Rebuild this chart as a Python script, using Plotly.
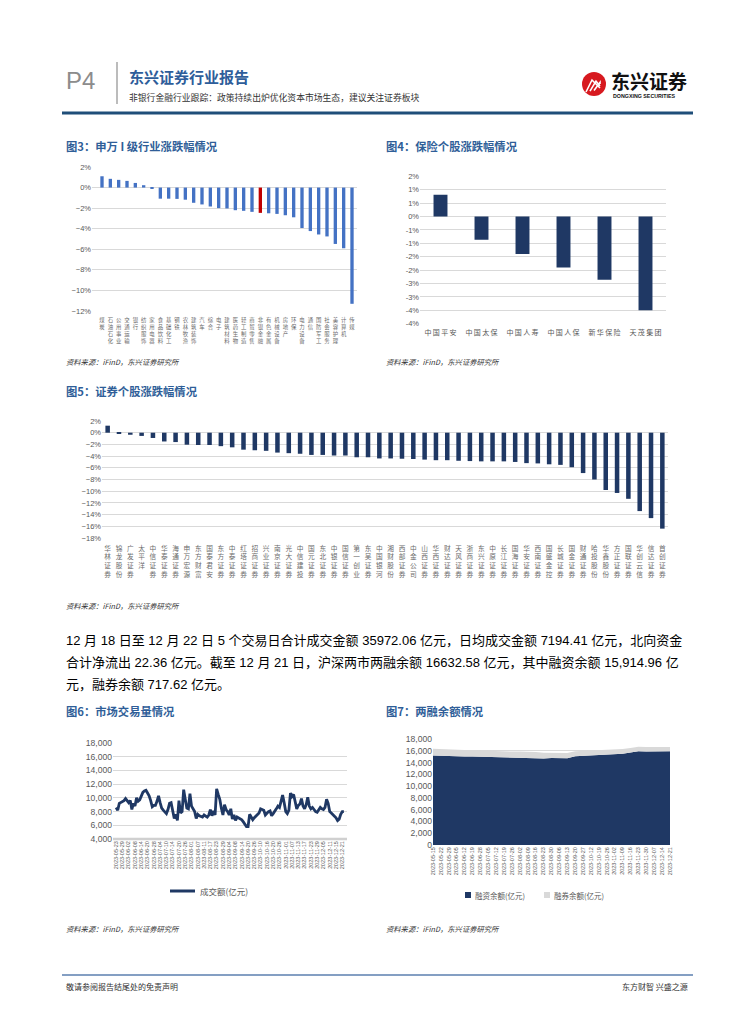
import plotly.graph_objects as go
import pandas as pd

W, H = 755, 1024
OFF = 8  # page body margin in the browser
def X(px): return (px - OFF) / W
def Y(py): return 1 - (py - OFF) / H

# ---------------- data ----------------
# Fig 3: SW level-1 industries weekly change (%)
sw_industries = ["煤炭", "石油石化", "公用事业", "交通运输", "银行", "纺织服饰", "家用电器", "食品饮料",
                 "基础化工", "钢铁", "农林牧渔", "建筑装饰", "汽车", "综合", "电子", "建筑材料",
                 "医药生物", "轻工制造", "商贸零售", "非银金融", "有色金属", "机械设备", "房地产", "环保",
                 "电力设备", "通信", "国防军工", "社会服务", "美容护理", "计算机", "传媒"]
sw_change = [1.1, 0.85, 0.75, 0.65, 0.45, 0.23, -0.1, -1.08, -1.08, -1.1, -1.18, -1.48, -1.64, -1.84,
             -2.0, -2.03, -2.2, -2.26, -2.36, -2.46, -2.5, -2.56, -2.69, -2.89, -3.93, -4.23, -4.56,
             -4.75, -5.48, -5.9, -11.3]
sw_highlight = "非银金融"

# Fig 4: insurance stocks (%)
ins_names = ["中国平安", "中国太保", "中国人寿", "中国人保", "新华保险", "天茂集团"]
ins_change = [0.81, -0.87, -1.40, -1.90, -2.36, -3.50]
ins_tickvals = [1.5, 1.0, 0.5, 0.0, -0.5, -1.0, -1.5, -2.0, -2.5, -3.0, -3.5, -4.0]
ins_ticktext = ["2%", "1%", "1%", "0%", "-1%", "-1%", "-2%", "-2%", "-3%", "-3%", "-4%", "-4%"]

# Fig 5: securities stocks (%)
sec_names = ["华林证券", "锦龙股份", "广发证券", "太平洋", "中信证券", "华泰证券", "海通证券", "申万宏源",
             "东方财富", "国泰君安", "东方证券", "中泰证券", "红塔证券", "招商证券", "兴业证券", "南京证券",
             "光大证券", "中信建投", "国元证券", "东北证券", "中银证券", "国信证券", "第一创业", "东吴证券",
             "中国银河", "湘财股份", "西部证券", "中金公司", "山西证券", "华西证券", "财达证券", "天风证券",
             "浙商证券", "东兴证券", "中原证券", "长江证券", "国海证券", "华安证券", "西南证券", "国盛金控",
             "长城证券", "国金证券", "财通证券", "哈投股份", "华鑫股份", "方正证券", "国联证券", "华创云信",
             "信达证券", "首创证券"]
sec_change = [1.2, -0.2, -0.35, -0.55, -0.9, -1.5, -1.6, -2.05, -2.1, -2.1, -2.3, -2.5, -2.9, -3.0,
              -3.1, -3.4, -3.5, -3.6, -3.8, -3.8, -3.9, -3.9, -4.2, -4.2, -4.4, -4.4, -4.45, -4.5,
              -4.6, -4.7, -4.7, -4.8, -4.85, -4.9, -4.9, -4.9, -5.0, -5.2, -5.25, -5.4, -5.5, -5.9,
              -6.9, -8.0, -9.8, -10.3, -11.3, -13.4, -14.6, -16.4]

# Fig 6: daily turnover (亿元)
turnover = [8600, 8200, 9200, 9300, 9400, 9600, 9900, 9600, 9300, 9600, 8300, 9200, 8800, 10000,
            9500, 9700, 10300, 10800, 11000, 11100, 10700, 10300, 9600, 8700, 8900, 8900, 9500,
            10300, 9300, 8500, 8200, 8000, 7700, 8300, 9200, 9300, 8300, 7000, 7600, 6700, 9600,
            7800, 8000, 11200, 9800, 8500, 8400, 10600, 8800, 8400, 8000, 7000, 7600, 7400, 7300,
            7200, 7500, 7300, 7200, 7500, 8300, 7400, 8100, 7500, 11300, 10500, 9800, 8500, 7500,
            9000, 8300, 8000, 7500, 8400, 6900, 7500, 6700, 7200, 7100, 7000, 6800, 6500, 6100,
            5800, 5800, 7600, 7200, 6800, 7100, 7300, 7500, 7800, 8400, 8300, 8200, 7500, 7800,
            8000, 8100, 7400, 7700, 8000, 8400, 8800, 8600, 9500, 10400, 9300, 8000, 7700, 8200,
            10700, 10200, 10500, 9600, 8400, 8900, 9100, 9900, 8800, 8400, 9000, 10100, 8800, 8400,
            8600, 8300, 8000, 7900, 8300, 8600, 8400, 8300, 8600, 9800, 9200, 8000, 7800, 7600,
            7400, 7100, 6700, 6900, 7600, 8000, 8000]
turnover_end = "2023-12-22"
market_holidays = ["2023-05-01", "2023-05-02", "2023-05-03", "2023-06-22", "2023-06-23",
                   "2023-09-29", "2023-10-02", "2023-10-03", "2023-10-04", "2023-10-05", "2023-10-06"]
turnover_name = "成交额(亿元)"

# Fig 7: margin balances (亿元)
margin_dates = ["2023-05-15", "2023-05-22", "2023-05-29", "2023-06-05", "2023-06-12", "2023-06-19",
                "2023-06-28", "2023-07-05", "2023-07-12", "2023-07-19", "2023-07-26", "2023-08-02",
                "2023-08-09", "2023-08-16", "2023-08-23", "2023-08-30", "2023-09-06", "2023-09-13",
                "2023-09-20", "2023-09-27", "2023-10-12", "2023-10-19", "2023-10-26", "2023-11-02",
                "2023-11-09", "2023-11-16", "2023-11-23", "2023-11-30", "2023-12-07", "2023-12-14",
                "2023-12-21"]
financing_bal = [15200, 15130, 15080, 15050, 15040, 15020, 14980, 14960, 14930, 14880, 14820, 14860,
                 14850, 14780, 14700, 14760, 14720, 14750, 15050, 15120, 15200, 15300, 15290, 15370,
                 15500, 15700, 15900, 15880, 15870, 15920, 15915]
short_bal = [1130, 1120, 1110, 1100, 1090, 1080, 1060, 1060, 1050, 1050, 1040, 1030, 1020, 1000, 960,
             920, 900, 890, 870, 860, 850, 840, 830, 820, 800, 790, 770, 760, 740, 730, 718]
margin_names = ["融资余额(亿元)", "融券余额(亿元)"]

paragraph = [
    "12 月 18 日至 12 月 22 日 5 个交易日合计成交金额 35972.06 亿元，日均成交金额 7194.41 亿元，北向资金",
    "合计净流出 22.36 亿元。截至 12 月 21 日，沪深两市两融余额 16632.58 亿元，其中融资余额 15,914.96 亿",
    "元，融券余额 717.62 亿元。",
]

# ---------------- styles ----------------
CJK = "Noto Sans CJK SC"
NUM = "Liberation Sans, Noto Sans CJK SC"
NAVY = "#1F3864"
BLUE = "#4472C4"
RED = "#C00000"
GRAYFILL = "#D9D9D9"
TITLE_C = "#2F5E98"
GRID = "#D9D9D9"
TICK = "#595959"
CAT = "#6B6B6B"

def stack(s):
    return "<br>".join(list(s))

def spaced(s):
    return "\u2009".join(list(s))

all_days = pd.bdate_range("2023-04-01", turnover_end)
all_days = [d for d in all_days if d.strftime("%Y-%m-%d") not in market_holidays]
turn_dates = [d.strftime("%Y-%m-%d") for d in all_days[-len(turnover):]]

fig = go.Figure()

fig.add_trace(go.Bar(x=sw_industries, y=sw_change, width=0.4,
                     marker=dict(color=[RED if n == sw_highlight else BLUE for n in sw_industries], line_width=0),
                     xaxis="x", yaxis="y", showlegend=False))
fig.add_trace(go.Bar(x=ins_names, y=ins_change, width=0.34, marker=dict(color=NAVY, line_width=0),
                     xaxis="x2", yaxis="y2", showlegend=False))
fig.add_trace(go.Bar(x=sec_names, y=sec_change, width=0.4, marker=dict(color=NAVY, line_width=0),
                     xaxis="x3", yaxis="y3", showlegend=False))
fig.add_trace(go.Scatter(x=turn_dates, y=turnover, mode="lines", line=dict(color=NAVY, width=2.8),
                         name=turnover_name, xaxis="x4", yaxis="y4", showlegend=False))
fig.add_trace(go.Scatter(x=margin_dates, y=financing_bal, mode="lines", stackgroup="m",
                         line=dict(width=0, color=NAVY), fillcolor=NAVY, name=margin_names[0],
                         xaxis="x5", yaxis="y5", showlegend=False))
fig.add_trace(go.Scatter(x=margin_dates, y=short_bal, mode="lines", stackgroup="m",
                         line=dict(width=0, color=GRAYFILL), fillcolor=GRAYFILL, name=margin_names[1],
                         xaxis="x5", yaxis="y5", showlegend=False))

tickfont = dict(family=NUM, size=7.5, color=TICK)
cjk_tick = dict(family=CJK, size=7, color=TICK)

lay = dict(
    width=W, height=1024, margin=dict(l=0, r=0, t=0, b=0, autoexpand=False),
    paper_bgcolor="white", plot_bgcolor="white", showlegend=False,
    xaxis=dict(domain=[X(92), X(357)], range=[-1.2, 30.6], type="category", tickmode="array",
               tickvals=sw_industries, ticktext=[stack(s) for s in sw_industries],
               tickfont=dict(family=CJK, size=5.4, color=CAT), tickangle=0, showgrid=False,
               showline=False, ticks="", anchor="y", automargin=False, ticklabelstandoff=5),
    yaxis=dict(domain=[Y(311), Y(167)], range=[-12, 2], dtick=2, ticksuffix="%", showgrid=True,
               gridcolor=GRID, gridwidth=1, zeroline=False, tickfont=tickfont, anchor="x", automargin=False),
    xaxis2=dict(domain=[X(420), X(666)], range=[-0.5, 5.5], type="category", tickfont=cjk_tick,
                tickmode="array", tickvals=ins_names, ticktext=[spaced(s) for s in ins_names],
                showgrid=False, ticks="", anchor="y2", tickangle=0, automargin=False, ticklabelstandoff=3),
    yaxis2=dict(domain=[Y(323.7), Y(176.3)], range=[-4.0, 1.5], tickmode="array", tickvals=ins_tickvals,
                ticktext=ins_ticktext, showgrid=True, gridcolor=GRID, zeroline=False, tickfont=tickfont,
                anchor="x2", automargin=False),
    xaxis3=dict(domain=[X(102), X(668)], range=[-0.5, 49.5], type="category", tickmode="array",
                tickvals=sec_names, ticktext=[stack(s) for s in sec_names],
                tickfont=dict(family=CJK, size=6.7, color=CAT), tickangle=0, showgrid=False,
                ticks="", anchor="y3", automargin=False, ticklabelstandoff=5),
    yaxis3=dict(domain=[Y(538), Y(421)], range=[-18, 2], dtick=2, ticksuffix="%", showgrid=True,
                gridcolor=GRID, zeroline=False, tickfont=tickfont, anchor="x3", automargin=False),
    xaxis4=dict(domain=[X(113), X(347)], type="category", tickmode="array",
                tickvals=turn_dates[::4], tickangle=-90,
                tickfont=dict(family=NUM, size=5.5, color=TICK), showgrid=False, ticks="",
                range=[-2, len(turnover) + 1], anchor="y4", showline=False, automargin=False),
    yaxis4=dict(domain=[Y(839), Y(743)], range=[4000, 18000], dtick=2000, tickformat=",",
                showgrid=True, gridcolor=GRID, zeroline=False, tickfont=dict(family=NUM, size=8.6, color=TICK),
                anchor="x4", automargin=False),
    xaxis5=dict(domain=[X(433), X(670)], type="category", range=[0, len(margin_dates) - 1], tickangle=-90,
                tickfont=dict(family=NUM, size=5.5, color=TICK), showgrid=False, ticks="", anchor="y5",
                automargin=False),
    yaxis5=dict(domain=[Y(845), Y(739)], range=[0, 18000], dtick=2000, tickformat=",", showgrid=True,
                gridcolor=GRID, zeroline=False, tickfont=dict(family=NUM, size=8.6, color=TICK), anchor="x5",
                layer="below traces", automargin=False),
)
fig.update_layout(**lay)

shapes = []
ann = []

def text(x, y, s, size, color="#000", family=CJK, anchor="left", bold=False, italic=False):
    if bold:
        s = "<b>" + s + "</b>"
    if italic:
        s = "<i>" + s + "</i>"
    ann.append(dict(x=X(x), y=Y(y), xref="paper", yref="paper", text=s, showarrow=False,
                    xanchor=anchor, yanchor="middle", font=dict(size=size, color=color, family=family)))

def hline(x0, x1, y, color, width, layer="above"):
    shapes.append(dict(type="line", xref="paper", yref="paper", x0=X(x0), x1=X(x1), y0=Y(y), y1=Y(y),
                       line=dict(color=color, width=width), layer=layer))

def rect(x0, y0, x1, y1, color):
    shapes.append(dict(type="rect", xref="paper", yref="paper", x0=X(x0), x1=X(x1), y0=Y(y1), y1=Y(y0),
                       fillcolor=color, line=dict(width=0)))

# header
text(64, 80, "P4", 24, "#8C8C8C", "Liberation Sans")
shapes.append(dict(type="line", xref="paper", yref="paper", x0=X(117), x1=X(117), y0=Y(62), y1=Y(104),
                   line=dict(color="#A6A6A6", width=1.5)))
text(127, 76, "东兴证券行业报告", 15, "#2E5D9A", CJK, bold=True)
text(127, 97, "非银行金融行业跟踪：政策持续出炉优化资本市场生态，建议关注证券板块", 8.8, "#333333")
hline(62, 693, 113, "#1F4E79", 3)
# logo
shapes.append(dict(type="circle", xref="paper", yref="paper", x0=X(582), x1=X(606), y0=Y(96), y1=Y(72),
                   fillcolor="#D7191F", line=dict(width=0)))
for off in [0, 4, 8]:
    shapes.append(dict(type="path", xref="paper", yref="paper",
                       path=f"M {X(586+off)} {Y(92-off*0.2)} L {X(592+off)} {Y(80+off*0.3)} L {X(600)} {Y(88-off*0.5)}",
                       line=dict(color="white", width=1.6)))
text(609, 80, "东兴证券", 19, "#111111", CJK, bold=True)
text(611, 96, "DONGXING SECURITIES", 5.3, "#111111", "Liberation Sans", bold=True)

# figure titles
text(64, 146, "图3：申万 I 级行业涨跌幅情况", 11.3, TITLE_C, bold=True)
text(384, 146, "图4：保险个股涨跌幅情况", 11.3, TITLE_C, bold=True)
text(64, 391, "图5：证券个股涨跌幅情况", 11.3, TITLE_C, bold=True)
text(64, 711, "图6：市场交易量情况", 11.3, TITLE_C, bold=True)
text(384, 711, "图7：两融余额情况", 11.3, TITLE_C, bold=True)

src = "资料来源：iFinD，东兴证券研究所"
for (x, y) in [(64, 362), (384, 362), (64, 606), (64, 929), (384, 929)]:
    text(x, y, src, 7.3, "#333333", CJK, italic=True)

for i, line in enumerate(paragraph):
    text(64, 640 + 22 * i, line, 13, "#000000", "Liberation Sans, Noto Sans CJK SC")

# fig6 legend (line sample + label)
hline(170, 195, 891, NAVY, 3)
text(198, 891, turnover_name, 8.5, TICK)
# fig7 legend (squares + labels)
rect(465, 892, 471, 898, NAVY)
text(473, 895, margin_names[0], 7.5, TICK)
rect(544, 892, 550, 898, GRAYFILL)
text(552, 895, margin_names[1], 7.5, TICK)

# footer
hline(62, 693, 975, "#5B7FAF", 1.5)
text(64, 986, "敬请参阅报告结尾处的免责声明", 8, "#333333")
text(690, 986, "东方财智 兴盛之源", 8, "#333333", anchor="right")

hline(113, 347, 839, "#D0D0D0", 2.5, layer="below")

fig.update_layout(shapes=shapes, annotations=ann)
fig.write_html("out.html")
